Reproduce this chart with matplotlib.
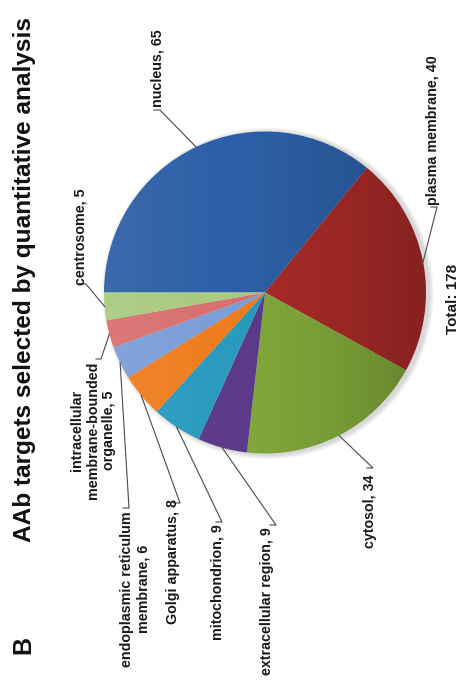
import numpy as np
import matplotlib
matplotlib.use("Agg")
import matplotlib.pyplot as plt
from matplotlib.patches import Circle

# ---- data ----
categories = ["nucleus", "plasma membrane", "cytosol", "extracellular region",
              "mitochondrion", "Golgi apparatus", "endoplasmic reticulum membrane",
              "intracellular membrane-bounded organelle", "centrosome"]
counts = [65, 40, 34, 9, 9, 8, 6, 5, 5]
label_texts = ["nucleus, 65", "plasma membrane, 40", "cytosol, 34",
               "extracellular region, 9", "mitochondrion, 9", "Golgi apparatus, 8",
               "endoplasmic reticulum\nmembrane, 6",
               "intracellular\nmembrane-bounded\norganelle, 5", "centrosome, 5"]
colors = ["#2D60A7", "#AA2B29", "#82A93B", "#5D3B8B", "#2A9BBE",
          "#EF7D1F", "#7B9ED8", "#D8706F", "#A9CA7F"]
title = "AAb targets selected by quantitative analysis"
panel = "B"
total_text = "Total: 178"

# ---- layout (pixels) ----
W, H = 464, 684
CX, CY, R = 265, 292.5, 161
text_pos = [(158, 68), (433, 130), (370, 511), (267, 601), (218, 582),
            (173, 562), (135, 589), (93, 430), (81, 237)]
anchors = [((154, 110), (160, 110)), ((431, 207), (437, 207)), ((367, 468), (373, 468)),
           ((270, 525), (276, 525)), ((216, 522), (222, 522)), ((174, 503), (180, 503)),
           ((123, 508), (129, 508)), ((96, 359), (101, 359)), ((80, 284), (86, 284))]

fam = "Liberation Sans"
lab_fs = 10.3
title_fs = 17.6

fig = plt.figure(figsize=(W / 100, H / 100), dpi=100)
fig.patch.set_facecolor("white")

ax = fig.add_axes([(CX - 1.1 * R) / W, (H - CY - 1.1 * R) / H, 2.2 * R / W, 2.2 * R / H])
# soft shadow, mostly on the right side of the rim
for k in range(5):
    ax.add_patch(Circle((0.018, -0.006), 1.0 + 0.006 * (5 - k), color="black",
                        alpha=0.03, lw=0, zorder=0))
wedges, _ = ax.pie(counts, colors=colors, startangle=180, counterclock=False,
                   radius=1, wedgeprops=dict(linewidth=0))

# subtle horizontal shading like the original gradient fill
n = 256
t = np.linspace(0, 1, n)
grad = np.zeros((2, n, 4))
white = t < 0.35
grad[0, :, :3] = np.where(white[:, None], 1.0, 0.0)
grad[0, :, 3] = np.where(white, 0.07 * (0.35 - t) / 0.35, 0.22 * ((t - 0.35) / 0.65) ** 1.5)
grad[1] = grad[0]
im = ax.imshow(grad, extent=(-1, 1, -1, 1), aspect="auto", zorder=5, interpolation="bilinear")
im.set_clip_path(Circle((0, 0), 1, transform=ax.transData))
ax.set_xlim(-1.1, 1.1)
ax.set_ylim(-1.1, 1.1)

ov = fig.add_axes([0, 0, 1, 1])
ov.set_xlim(0, W)
ov.set_ylim(H, 0)
ov.patch.set_alpha(0)
ov.axis("off")

for w, txt, (tx, ty), (a0, a1) in zip(wedges, label_texts, text_pos, anchors):
    mid = np.deg2rad((w.theta1 + w.theta2) / 2)
    px = CX + R * np.cos(mid)
    py = CY - R * np.sin(mid)
    ov.plot([a0[0], a1[0], px], [a0[1], a1[1], py], color="#4a4a4a", lw=0.8)
    ov.text(tx, ty, txt, rotation=90, ha="center", va="center", fontsize=lab_fs,
            fontweight="bold", family=fam, color="#1a1a1a", multialignment="center",
            linespacing=1.2)

ov.text(453, 299, total_text, rotation=90, ha="center", va="center", fontsize=11,
        fontweight="bold", family=fam, color="#1a1a1a")
ov.text(25, 280, title, rotation=90, ha="center", va="center", fontsize=title_fs,
        fontweight="bold", family=fam, color="#111111")
ov.text(23, 645, panel, rotation=90, ha="center", va="center", fontsize=18,
        fontweight="bold", family=fam, color="#111111")

fig.savefig("out.png", dpi=100, facecolor="white")
